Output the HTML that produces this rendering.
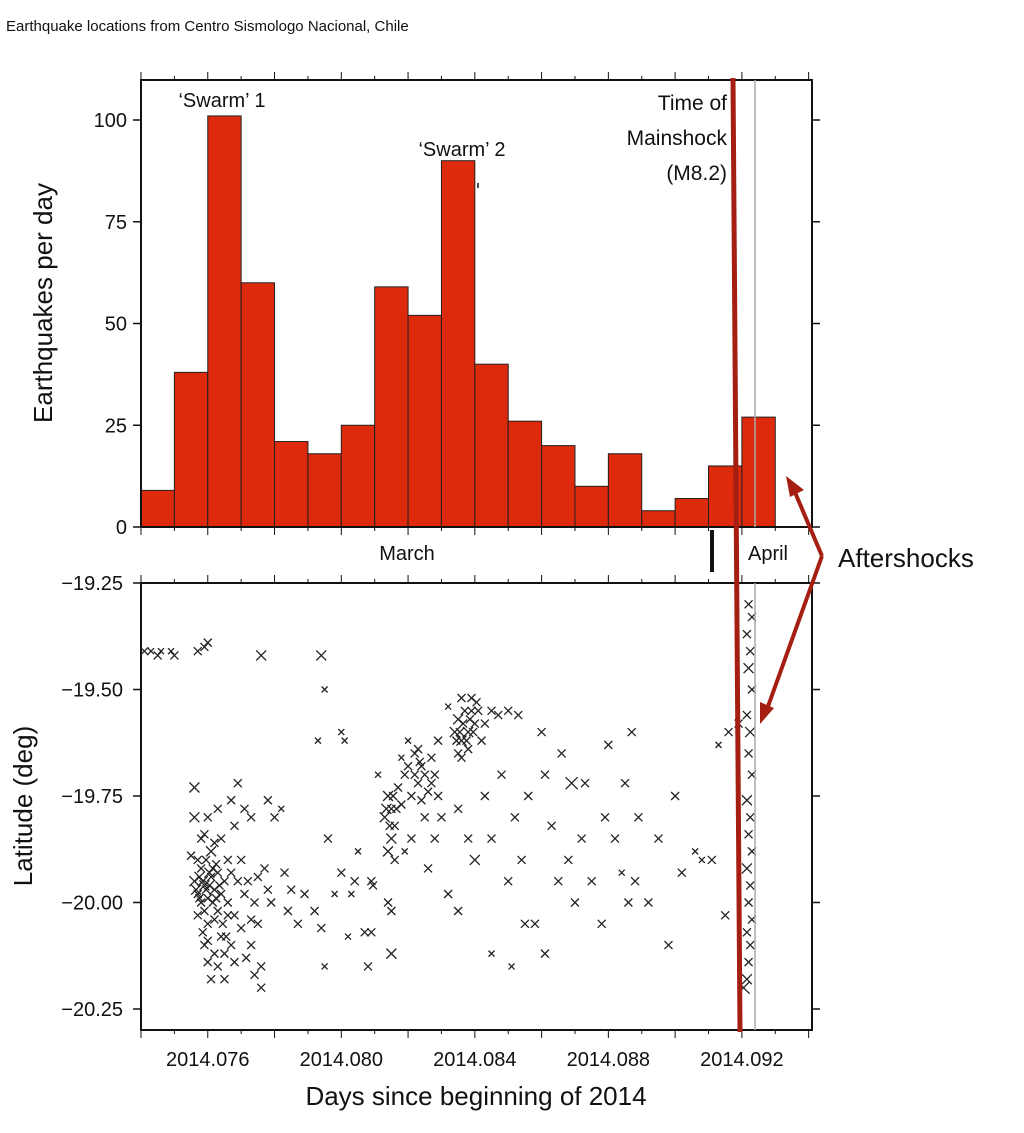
<!DOCTYPE html>
<html><head><meta charset="utf-8"><style>
body{margin:0;background:#fff;}
svg text{font-family:"Liberation Sans",Arial,sans-serif;fill:#111;}
</style></head><body>
<svg id="fig" width="1024" height="1128" viewBox="0 0 1024 1128" xmlns="http://www.w3.org/2000/svg">
<text x="6" y="31" font-size="15">Earthquake locations from Centro Sismologo Nacional, Chile</text>
<g id="top"></g>
<g id="bot"></g>
<g id="ann"></g>
</svg>
<script>
// Histogram data: earthquakes per bin (bin width 0.001 yr, starting 2014.074)
const binCounts = [9,38,101,60,21,18,25,59,52,90,40,26,20,10,18,4,7,15,27];
const binStart = 2014.074;
const binWidth = 0.001;
const countTicks = [0,25,50,75,100];
const latTicks = [-19.25,-19.50,-19.75,-20.00,-20.25];
const latTickLabels = ["\u221219.25","\u221219.50","\u221219.75","\u221220.00","\u221220.25"];
const timeTicks = [2014.076,2014.080,2014.084,2014.088,2014.092];
const timeTickLabels = ["2014.076","2014.080","2014.084","2014.088","2014.092"];
// Quakes: [time offset (thousandths of year after 2014), latitude, marker size]
const quakes = [
[74.1,-19.41,4],[74.3,-19.41,3],[74.5,-19.42,4],[74.6,-19.41,3],[74.9,-19.41,3],[75.0,-19.42,4],[75.7,-19.41,4],[75.9,-19.40,4],[76.0,-19.39,4],[77.6,-19.42,5],[79.4,-19.42,5],[79.5,-19.50,3],[79.3,-19.62,3],
[75.6,-19.95,5],[75.7,-19.98,4],[75.8,-19.92,4],[75.9,-19.96,5],[76.0,-19.99,4],[76.1,-19.94,4],[76.2,-19.97,5],[76.3,-20.02,4],[76.0,-20.05,4],[75.9,-20.1,4],[76.2,-20.12,4],[76.4,-20.08,4],[76.5,-19.95,4],[76.6,-19.9,4],[76.4,-19.85,4],[76.1,-19.88,5],[75.8,-19.85,4],[75.6,-19.8,5],[75.5,-19.89,4],[75.7,-20.03,4],[76.3,-20.15,4],[76.5,-20.18,4],[76.7,-20.1,4],[76.8,-20.03,4],[76.6,-20.0,4],[76.9,-19.95,4],[77.0,-19.9,4],[76.8,-19.82,4],[77.1,-19.78,4],[76.7,-19.76,4],[76.3,-19.78,4],[76.0,-19.8,4],[75.6,-19.73,5],[76.9,-19.72,4],[77.3,-19.8,4],[77.2,-19.95,4],[77.4,-20.0,4],[77.5,-20.05,4],[77.3,-20.1,4],[77.6,-20.15,4],[77.6,-20.2,4],[77.4,-20.17,4],[77.7,-19.92,4],[77.8,-19.97,4],[77.9,-20.0,4],[78.0,-19.8,4],[77.8,-19.76,4],[78.2,-19.78,3],[78.3,-19.93,4],[78.5,-19.97,4],[78.4,-20.02,4],[76.05,-19.93,5],[75.95,-19.9,4],[76.15,-20.0,4],[76.25,-19.91,4],[76.35,-19.96,4],[75.75,-19.94,5],[76.45,-20.05,4],[76.55,-20.08,4],[75.85,-20.07,4],[76.1,-20.18,4],[76.0,-20.14,4],[77.0,-20.06,4],[77.1,-19.98,4],[77.15,-20.13,4],
[75.65,-19.97,5],[75.75,-19.99,4],[75.85,-19.95,5],[75.95,-19.97,4],[76.05,-19.96,5],[76.15,-19.92,4],[76.25,-19.99,4],[75.8,-20.0,4],[75.9,-20.02,4],[76.2,-20.04,4],[76.3,-19.93,4],[76.4,-19.98,4],[76.6,-20.03,4],[76.7,-19.93,4],[75.7,-19.9,4],[76.0,-20.09,4],[76.5,-20.12,4],[76.8,-20.14,4],[77.3,-20.04,4],[77.5,-19.94,4],[75.9,-19.84,4],[76.2,-19.86,4],
[78.7,-20.05,4],[78.9,-19.98,4],[79.2,-20.02,4],[79.4,-20.06,4],[79.6,-19.85,4],[79.8,-19.98,3],[80.0,-19.93,4],[80.2,-20.08,3],[79.5,-20.15,3],[80.4,-19.95,4],[80.5,-19.88,3],[80.8,-20.15,4],[80.9,-19.95,4],[80.95,-19.96,4],[80.7,-20.07,4],[80.9,-20.07,4],[81.4,-20.0,4],[81.5,-20.02,4],[81.5,-20.12,5],[81.1,-19.7,3],[80.3,-19.98,3],[80.0,-19.6,3],[80.1,-19.62,3],
[81.3,-19.8,5],[81.4,-19.75,5],[81.5,-19.85,5],[81.5,-19.78,4],[81.6,-19.82,4],[81.7,-19.73,4],[81.8,-19.77,4],[81.6,-19.9,4],[81.9,-19.7,4],[82.0,-19.68,4],[82.1,-19.75,4],[82.2,-19.65,4],[82.3,-19.72,4],[82.4,-19.68,4],[82.5,-19.8,4],[82.6,-19.74,4],[82.7,-19.66,4],[82.8,-19.7,4],[82.4,-19.76,4],[82.1,-19.85,4],[81.9,-19.88,3],[82.8,-19.85,4],[83.0,-19.8,4],[82.9,-19.75,4],[82.6,-19.92,4],[82.3,-19.64,4],[81.8,-19.66,3],[82.0,-19.62,3],[82.9,-19.62,4],
[81.35,-19.78,5],[81.45,-19.82,4],[81.55,-19.75,4],[81.65,-19.78,4],[81.4,-19.88,5],[82.2,-19.7,4],[82.35,-19.67,4],[82.5,-19.7,4],[82.7,-19.72,4],
[83.4,-19.6,5],[83.5,-19.57,5],[83.6,-19.62,5],[83.7,-19.55,4],[83.8,-19.6,5],[83.9,-19.52,4],[84.0,-19.58,4],[84.1,-19.55,4],[84.2,-19.62,4],[83.5,-19.65,4],[83.8,-19.64,4],[84.3,-19.58,4],[84.5,-19.55,4],[84.7,-19.56,4],[85.0,-19.55,4],[85.3,-19.56,4],[83.2,-19.54,3],[83.6,-19.52,4],
[83.45,-19.62,4],[83.55,-19.6,4],[83.65,-19.58,4],[83.75,-19.62,4],[83.85,-19.57,4],[83.95,-19.6,4],[84.05,-19.53,4],[83.6,-19.66,4],[83.9,-19.55,4],
[83.5,-19.78,4],[83.8,-19.85,4],[84.0,-19.9,5],[84.3,-19.75,4],[84.5,-19.85,4],[84.8,-19.7,4],[85.0,-19.95,4],[85.2,-19.8,4],[85.4,-19.9,4],[85.5,-20.05,4],[85.6,-19.75,4],[85.8,-20.05,4],[86.0,-19.6,4],[86.1,-19.7,4],[86.3,-19.82,4],[86.5,-19.95,4],[86.6,-19.65,4],[86.8,-19.9,4],[87.0,-20.0,4],[87.2,-19.85,4],[87.3,-19.72,4],[87.5,-19.95,4],[87.8,-20.05,4],[87.9,-19.8,4],[88.0,-19.63,4],[88.2,-19.85,4],[88.4,-19.93,3],[88.5,-19.72,4],[88.6,-20.0,4],[88.8,-19.95,4],[88.9,-19.8,4],[89.2,-20.0,4],[89.5,-19.85,4],[89.8,-20.1,4],[90.0,-19.75,4],[90.2,-19.93,4],[90.6,-19.88,3],[90.8,-19.9,3],[91.1,-19.9,4],[91.3,-19.63,3],[91.5,-20.03,4],[91.6,-19.6,4],[91.9,-19.58,4],[86.1,-20.12,4],[84.5,-20.12,3],[85.1,-20.15,3],[83.2,-19.98,4],[83.5,-20.02,4],[86.9,-19.72,6],[88.7,-19.6,4],
[92.2,-19.30,4],[92.3,-19.33,4],[92.15,-19.37,4],[92.25,-19.41,4],[92.2,-19.45,5],[92.3,-19.5,4],[92.15,-19.56,4],[92.25,-19.6,5],[92.2,-19.65,4],[92.3,-19.7,4],[92.15,-19.76,5],[92.25,-19.8,4],[92.2,-19.84,4],[92.3,-19.88,4],[92.15,-19.92,5],[92.25,-19.96,4],[92.2,-20.0,4],[92.3,-20.04,4],[92.15,-20.07,4],[92.25,-20.1,4],[92.2,-20.14,4],[92.15,-20.18,5],[92.05,-20.2,6]
];
const NS="http://www.w3.org/2000/svg";
function mk(tag,attrs,parent,txt){const e=document.createElementNS(NS,tag);for(const k in attrs)e.setAttribute(k,attrs[k]);if(txt!==undefined)e.textContent=txt;parent.appendChild(e);return e;}
const L=141,R=812;
const T0=2014.074,T1=2014.0941;
const xT=t=>L+(t-T0)/(T1-T0)*(R-L);
// top panel
const TT=80,TB=527;
const yC=c=>TB-c*4.07;
const topG=document.getElementById('top');
binCounts.forEach((c,i)=>{
  const x0=xT(binStart+i*binWidth),x1=xT(binStart+(i+1)*binWidth);
  const r=mk('rect',{x:x0,y:yC(c),width:x1-x0,height:TB-yC(c),fill:'#dd2a0c',stroke:'#222','stroke-width':1},topG);
  
  
});
mk('rect',{x:L,y:TT,width:R-L,height:TB-TT,fill:'none',stroke:'#111','stroke-width':2},topG);
countTicks.forEach(c=>{
  mk('line',{x1:L-8,x2:L,y1:yC(c),y2:yC(c),stroke:'#111','stroke-width':1.5},topG);
  mk('line',{x1:R,x2:R+8,y1:yC(c),y2:yC(c),stroke:'#111','stroke-width':1.5},topG);
  const t=mk('text',{x:L-14,y:yC(c)+7,'font-size':20,'text-anchor':'end'},topG,String(c));
  
  
});
for(let i=0;i<=20;i++){const x=xT(T0+i*0.001);if(x>R+1)break;
  mk('line',{x1:x,x2:x,y1:TT-(i%2?4:8),y2:TT,stroke:'#111'},topG);
  mk('line',{x1:x,x2:x,y1:TB,y2:TB+(i%2?4:8),stroke:'#111'},topG);}
let yt=mk('text',{x:0,y:0,'font-size':26,'text-anchor':'middle',transform:'translate(52,303) rotate(-90)'},topG,'Earthquakes per day');

// bottom panel
const BT=583,BB=1030;
const yL=l=>BT+(-19.25-l)*426;
const botG=document.getElementById('bot');
mk('rect',{x:L,y:BT,width:R-L,height:BB-BT,fill:'none',stroke:'#111','stroke-width':2},botG);
latTicks.forEach((l,i)=>{
  mk('line',{x1:L-8,x2:L,y1:yL(l),y2:yL(l),stroke:'#111','stroke-width':1.5},botG);
  mk('line',{x1:R,x2:R+8,y1:yL(l),y2:yL(l),stroke:'#111','stroke-width':1.5},botG);
  const t=mk('text',{x:L-18,y:yL(l)+7,'font-size':20,'text-anchor':'end'},botG,latTickLabels[i]);
  
});
for(let i=0;i<=20;i++){const x=xT(T0+i*0.001);if(x>R+1)break;
  mk('line',{x1:x,x2:x,y1:BT-(i%2?4:8),y2:BT,stroke:'#111'},botG);
  mk('line',{x1:x,x2:x,y1:BB,y2:BB+(i%2?4:8),stroke:'#111'},botG);}
timeTicks.forEach((t,i)=>{const e=mk('text',{x:xT(t),y:BB+36,'font-size':20,'text-anchor':'middle'},botG,timeTickLabels[i]);
  });
let xt=mk('text',{x:476,y:1105,'font-size':26,'text-anchor':'middle'},botG,'Days since beginning of 2014');

let yt2=mk('text',{x:0,y:0,'font-size':26,'text-anchor':'middle',transform:'translate(32,806) rotate(-90)'},botG,'Latitude (deg)');

quakes.forEach(q=>{
  const x=xT(2014+q[0]/1000),y=yL(q[1]),s=q[2];
  const p=mk('path',{d:`M${x-s},${y-s}L${x+s},${y+s}M${x-s},${y+s}L${x+s},${y-s}`,stroke:'#222','stroke-width':1.3,fill:'none'},botG);
  
  
});
// annotations
const annG=document.getElementById('ann');
mk('line',{x1:755,x2:755,y1:TT,y2:TB,stroke:'#aaa','stroke-width':1.5},annG);
mk('line',{x1:755,x2:755,y1:BT,y2:BB,stroke:'#aaa','stroke-width':1.5},annG);
const ml=mk('line',{x1:733,y1:TT-2,x2:740,y2:BB+2,stroke:'#a51e12','stroke-width':5},annG);

mk('line',{x1:712,x2:712,y1:530,y2:572,stroke:'#111','stroke-width':4},annG);
mk('line',{x1:478,x2:478,y1:183,y2:188,stroke:'#111','stroke-width':1.5},annG);
const labs=[['swarm-1-label',222,107,'\u2018Swarm\u2019 1'],['swarm-2-label',462,156,'\u2018Swarm\u2019 2'],['march-label',407,560,'March'],['april-label',768,560,'April']];
labs.forEach(a=>{const e=mk('text',{x:a[1],y:a[2],'font-size':20,'text-anchor':'middle'},annG,a[3]);});
['Time of','Mainshock','(M8.2)'].forEach((s,i)=>{const e=mk('text',{x:727,y:110+i*35,'font-size':21,'text-anchor':'end'},annG,s);});
const af=mk('text',{x:838,y:567,'font-size':26},annG,'Aftershocks');

mk('path',{d:'M822,556 L794,490 M822,556 L766,712',stroke:'#a51e12','stroke-width':4,fill:'none'},annG);
mk('path',{d:'M786,476 L804,490 L790,497 Z',fill:'#a51e12'},annG);
mk('path',{d:'M760,724 L760,702 L774,708 Z',fill:'#a51e12'},annG);
</script>
</body></html>
